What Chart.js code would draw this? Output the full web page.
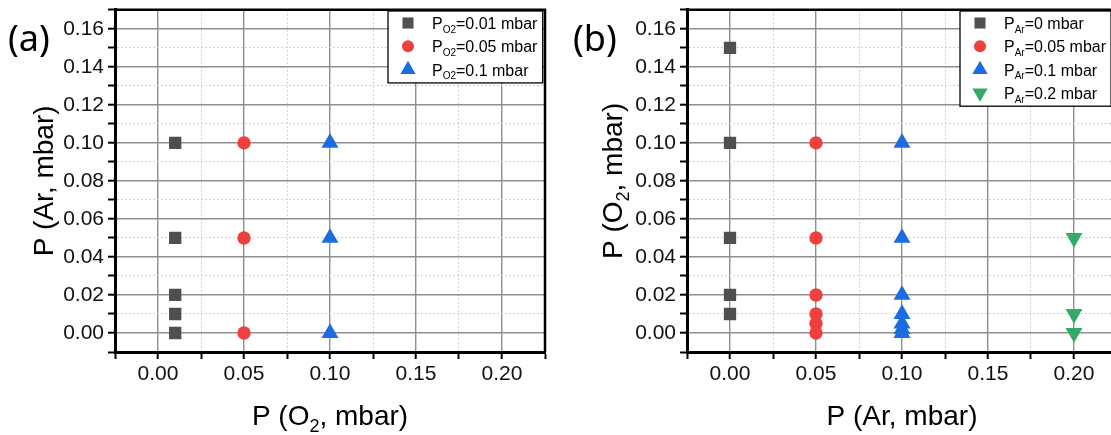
<!DOCTYPE html>
<html>
<head>
<meta charset="utf-8">
<script src="https://cdn.jsdelivr.net/npm/chart.js@4.4.0/dist/chart.umd.min.js"></script>
<style>
    html, body { margin: 0; padding: 0; background: #fff; overflow: hidden; width: 1111px; height: 435px; }
    .panel { position: absolute; top: 0; width: 560px; height: 435px; }
    #pa { left: 0; }
    #pb { left: 572px; }
</style>
</head>
<body>
<div class="panel" id="pa"><canvas id="chartA"></canvas></div>
<div class="panel" id="pb"><canvas id="chartB"></canvas></div>
<script>
// panel (a): P(Ar) at fixed P(O2)
const aLegend = ['0.01', '0.05', '0.1'];
const aO2 = [0.01, 0.05, 0.10];
const aAr_001 = [0.10, 0.05, 0.02, 0.01, 0.00];
const aAr_005 = [0.10, 0.05, 0.00];
const aAr_01 = [0.10, 0.05, 0.00];

// panel (b): P(O2) at fixed P(Ar)
const bLegend = ['0', '0.05', '0.1', '0.2'];
const bAr = [0.00, 0.05, 0.10, 0.20];
const bO2_0 = [0.15, 0.10, 0.05, 0.02, 0.01];
const bO2_005 = [0.10, 0.05, 0.02, 0.01, 0.005, 0.00];
const bO2_01 = [0.10, 0.05, 0.02, 0.01, 0.005, 0.002, 0.00];
const bO2_02 = [0.05, 0.01, 0.00];

// ticks
const xMajor = [0.00, 0.05, 0.10, 0.15, 0.20];
const xMinor = [-0.025, 0.025, 0.075, 0.125, 0.175, 0.225];
const yMajor = [0.00, 0.02, 0.04, 0.06, 0.08, 0.10, 0.12, 0.14, 0.16];
const yMinor = [-0.01, 0.01, 0.03, 0.05, 0.07, 0.09, 0.11, 0.13, 0.15, 0.17];

const COLORS = ['#4f4f4f', '#ef3f3f', '#1a6ce0', '#35aa67'];
const STYLES = ['rect', 'circle', 'triangle', 'triangle'];
const ROT = [0, 0, 0, 180];
const RADIUS = [8.7, 6.7, 9.8, 9.8];
const FONT = '"Liberation Sans", Arial, sans-serif';

function isMajor(v, list) {
    return list.some(m => Math.abs(m - v) < 1e-6);
}

function mkSet(label, xv, ys, i) {
    return {
        label: label,
        data: ys.map(y => ({ x: xv, y: y })),
        pointStyle: STYLES[i],
        rotation: ROT[i],
        pointRadius: RADIUS[i],
        pointHoverRadius: RADIUS[i],
        backgroundColor: COLORS[i],
        borderColor: COLORS[i],
        borderWidth: 0,
        showLine: false,
    };
}

function drawRich(ctx, parts, x, y, size, align) {
    const sub = Math.round(size * 0.64);
    let w = 0;
    parts.forEach(p => {
        ctx.font = (p[1] ? sub : size) + 'px ' + FONT;
        w += ctx.measureText(p[0]).width;
    });
    let cx = align === 'left' ? x : x - w / 2;
    ctx.textAlign = 'left';
    ctx.textBaseline = 'alphabetic';
    parts.forEach(p => {
        ctx.font = (p[1] ? sub : size) + 'px ' + FONT;
        ctx.fillText(p[0], cx, p[1] ? y + size * 0.24 : y);
        cx += ctx.measureText(p[0]).width;
    });
    return w;
}

function drawMarker(ctx, i, x, y) {
    Chart.helpers.drawPoint(ctx, {
        pointStyle: STYLES[i], rotation: ROT[i], radius: RADIUS[i] * 0.9, borderWidth: 0
    }, x, y);
}

const panelDecor = {
    id: 'panelDecor',
    afterDraw(chart, args, o) {
        const ctx = chart.ctx, a = chart.chartArea;
        ctx.save();
        // top and right frame
        ctx.strokeStyle = '#000';
        ctx.lineWidth = 2.5;
        ctx.beginPath();
        ctx.moveTo(a.left - 1, a.top);
        ctx.lineTo(a.right, a.top);
        ctx.lineTo(a.right, a.bottom);
        ctx.stroke();

        // panel letter
        ctx.fillStyle = '#000';
        ctx.font = '36px "Noto Sans", sans-serif';
        ctx.textAlign = 'left';
        ctx.textBaseline = 'alphabetic';
        ctx.fillText(o.letter, o.letterX, 51);

        // axis titles
        drawRich(ctx, o.xTitle, (a.left + a.right) / 2, 425, 28);
        ctx.save();
        ctx.translate(o.yTitleX, (a.top + a.bottom) / 2);
        ctx.rotate(-Math.PI / 2);
        drawRich(ctx, o.yTitle, 0, 0, 28);
        ctx.restore();

        // legend box
        const rows = o.legend.length;
        const lsize = 16, lsub = 11;
        let maxW = 0;
        o.legend.forEach(l => {
            const parts = [['P', false], [o.legendSub, true], ['=' + l + ' mbar', false]];
            let w = 0;
            parts.forEach(p => {
                ctx.font = (p[1] ? lsub : lsize) + 'px ' + FONT;
                w += ctx.measureText(p[0]).width;
            });
            maxW = Math.max(maxW, w);
        });
        const bx = 388, by = 11, bw = 432 - bx + maxW + 4, bh = rows * 23.3 + 2;
        ctx.fillStyle = '#fff';
        ctx.fillRect(bx, by, bw, bh);
        ctx.strokeStyle = '#000';
        ctx.lineWidth = 1.3;
        ctx.strokeRect(bx, by, bw, bh);
        o.legend.forEach((l, i) => {
            const cy = 23 + i * 23.3;
            ctx.fillStyle = COLORS[i];
            drawMarker(ctx, i, 408, cy);
            ctx.fillStyle = '#000';
            drawRich(ctx, [['P', false], [o.legendSub, true], ['=' + l + ' mbar', false]], 432, cy + 6, lsize, 'left');
        });
        ctx.restore();
    }
};

function axes() {
    return {
        x: {
            type: 'linear',
            min: -0.025,
            max: 0.225,
            afterBuildTicks: s => { s.ticks = xMajor.concat(xMinor).sort((p, q) => p - q).map(v => ({ value: v })); },
            afterFit: s => { s.height = 83; s.paddingLeft = 0; s.paddingRight = 0; s.paddingTop = 0; s.paddingBottom = 0; },
            ticks: {
                autoSkip: false,
                maxRotation: 0,
                padding: 3,
                color: '#111',
                font: { family: FONT, size: 21 },
                callback: v => isMajor(v, xMajor) ? v.toFixed(2) : ''
            },
            grid: {
                color: c => c.tick && isMajor(c.tick.value, xMajor) ? '#8f8f8f' : '#cfcfcf',
                lineWidth: c => c.tick && isMajor(c.tick.value, xMajor) ? 1.4 : 1,
                tickColor: '#000',
                tickLength: 7,
                tickWidth: 2,
            },
            border: {
                color: '#000',
                width: 3,
                dash: c => c.tick && !isMajor(c.tick.value, xMajor) ? [2, 2] : []
            }
        },
        y: {
            type: 'linear',
            min: -0.01,
            max: 0.17,
            afterBuildTicks: s => { s.ticks = yMajor.concat(yMinor).sort((p, q) => p - q).map(v => ({ value: v })); },
            afterFit: s => { s.width = 115; s.paddingLeft = 0; s.paddingRight = 0; s.paddingTop = 0; s.paddingBottom = 0; },
            ticks: {
                autoSkip: false,
                padding: 4,
                color: '#111',
                font: { family: FONT, size: 21 },
                callback: v => isMajor(v, yMajor) ? v.toFixed(2) : ''
            },
            grid: {
                color: c => c.tick && isMajor(c.tick.value, yMajor) ? '#8f8f8f' : '#cfcfcf',
                lineWidth: c => c.tick && isMajor(c.tick.value, yMajor) ? 1.4 : 1,
                tickColor: '#000',
                tickLength: 7,
                tickWidth: 2,
            },
            border: {
                color: '#000',
                width: 3,
                dash: c => c.tick && !isMajor(c.tick.value, yMajor) ? [2, 2] : []
            }
        }
    };
}

function load_panel(id, datasets, deco) {
    const config = {
        type: 'scatter',
        data: { datasets: datasets },
        options: {
            responsive: true,
            maintainAspectRatio: false,
            animation: false,
            layout: { padding: { left: 0, top: 8, right: 15, bottom: 0 } },
            plugins: {
                legend: { display: false },
                tooltip: { enabled: false },
                panelDecor: deco
            },
            scales: axes()
        },
        plugins: [panelDecor]
    };
    _ = new Chart(document.getElementById(id), config);
}

load_panel('chartA', [
    mkSet('P_O2=0.01 mbar', aO2[0], aAr_001, 0),
    mkSet('P_O2=0.05 mbar', aO2[1], aAr_005, 1),
    mkSet('P_O2=0.1 mbar', aO2[2], aAr_01, 2),
], {
    letter: '(a)', letterX: 8, yTitleX: 53,
    xTitle: [['P (O', false], ['2', true], [', mbar)', false]],
    yTitle: [['P (Ar, mbar)', false]],
    legend: aLegend, legendSub: 'O2'
});

load_panel('chartB', [
    mkSet('P_Ar=0 mbar', bAr[0], bO2_0, 0),
    mkSet('P_Ar=0.05 mbar', bAr[1], bO2_005, 1),
    mkSet('P_Ar=0.1 mbar', bAr[2], bO2_01, 2),
    mkSet('P_Ar=0.2 mbar', bAr[3], bO2_02, 3),
], {
    letter: '(b)', letterX: 1, yTitleX: 50,
    xTitle: [['P (Ar, mbar)', false]],
    yTitle: [['P (O', false], ['2', true], [', mbar)', false]],
    legend: bLegend, legendSub: 'Ar'
});
</script>
</body>
</html>
